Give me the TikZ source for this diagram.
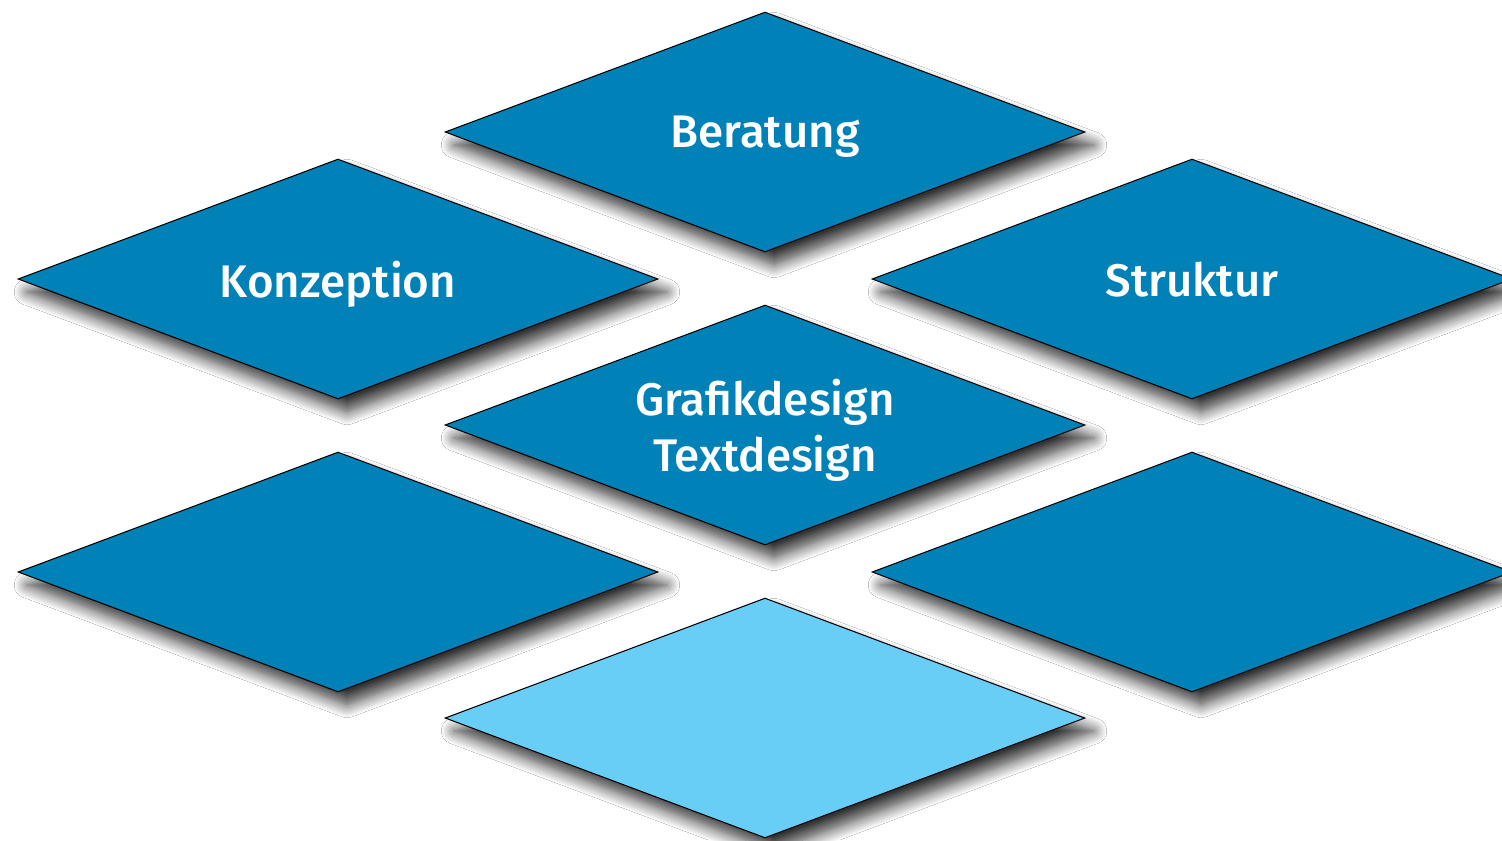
\documentclass[tikz,border=0pt]{standalone}
\usepackage{fontspec}
\setmainfont{Fira Sans Medium}
\usetikzlibrary{shapes.geometric, shadows.blur}
\definecolor{tileblue}{HTML}{0082B8}
\definecolor{tilelight}{HTML}{69CEF5}
\tikzset{
  tile/.style={diamond, draw=black, line width=0.6pt, fill=tileblue,
               shape aspect=2.667, minimum width=12.8cm, minimum height=4.8cm,
               inner sep=0pt, align=center, text=white, text depth=0pt,
               font=\fontsize{26}{32}\selectfont,
               blur shadow={shadow xshift=0.18cm, shadow yshift=-0.26cm,
                            shadow blur radius=0.26cm, shadow blur steps=12,
                            shadow opacity=80}},
  tilelt/.style={tile, fill=tilelight},
}
\begin{document}
\begin{tikzpicture}[x=0.02cm, y=-0.02cm]
  \clip (0,0) rectangle (1502,840);
  \fill[white] (0,0) rectangle (1502,840);
  % top row
  \node[tile] (beratung) at (765,132) {Beratung};
  % second row
  \node[tile] (konzeption) at (338,279) {Konzeption};
  \node[tile] (struktur) at (1192,279) {Struktur};
  % middle
  \node[tile] (design) at (765,425) {Grafikdesign\\Textdesign};
  % lower row
  \node[tile] (leftlow) at (338,572) {};
  \node[tile] (rightlow) at (1192,572) {};
  % bottom
  \node[tilelt] (bottom) at (765,718) {};
\end{tikzpicture}
\end{document}
